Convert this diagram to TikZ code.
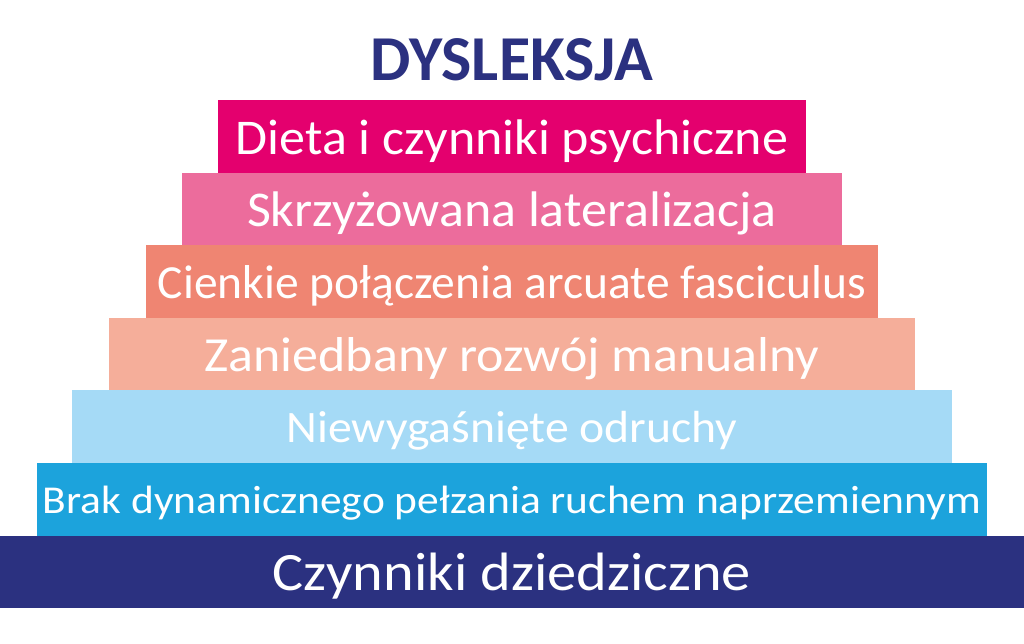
\documentclass[tikz,border=0pt]{standalone}
\usepackage{fontspec}
\setmainfont{Carlito}
\usepackage{graphicx}
\usepackage{tikz}
\usetikzlibrary{positioning}
\definecolor{dysNavy}{HTML}{2B3180}
\definecolor{dysBlue}{HTML}{1CA3DC}
\definecolor{dysSky}{HTML}{A5DAF6}
\definecolor{dysPeach}{HTML}{F5AE9A}
\definecolor{dysSalmon}{HTML}{EF8572}
\definecolor{dysPink}{HTML}{EC6C9C}
\definecolor{dysMagenta}{HTML}{E4006E}
\newcommand{\tierHeight}[0]{72.6pt}
\newcommand{\tierWiden}[2]{\scalebox{#1}[1]{#2}}

\begin{document}
\begin{tikzpicture}[x=1pt, y=1pt]
  \tikzset{tier/.style 2 args={fill=#1, text=white, inner sep=0pt, outer sep=0pt,
      minimum height=\tierHeight, font=\fontsize{#2}{#2}\selectfont,
      text height=0.632*#2pt+4pt, text depth=0pt}}
  \useasboundingbox (0,0) rectangle (1024,643);
  \node[tier={dysMagenta}{50}, minimum width=588pt] (dieta) at (512,506.7) {\tierWiden{1.04}{Dieta i czynniki psychiczne}};
  \node[tier={dysPink}{50}, minimum width=660pt, below=0pt of dieta] (later) {\tierWiden{1.04}{Skrzyżowana lateralizacja}};
  \node[tier={dysSalmon}{47.5}, minimum width=732pt, below=0pt of later] (arcuate) {Cienkie połączenia arcuate fasciculus};
  \node[tier={dysPeach}{49}, minimum width=806pt, below=0pt of arcuate] (manual) {\tierWiden{1.06}{Zaniedbany rozwój manualny}};
  \node[tier={dysSky}{45}, minimum width=880pt, below=0pt of manual] (odruchy) {\tierWiden{1.06}{Niewygaśnięte odruchy}};
  \node[tier={dysBlue}{39.5}, minimum width=950pt, below=0pt of odruchy] (pelzanie) {\tierWiden{1.1}{Brak dynamicznego pełzania ruchem naprzemiennym}};
  \node[tier={dysNavy}{54}, minimum width=1024pt, below=0pt of pelzanie] (geny) {\tierWiden{1.08}{Czynniki dziedziczne}};
  % title above the pyramid
  \node[above=19pt of dieta, anchor=base, text=dysNavy, font=\fontsize{64}{64}\selectfont\bfseries] (title) {DYSLEKSJA};
\end{tikzpicture}
\end{document}
